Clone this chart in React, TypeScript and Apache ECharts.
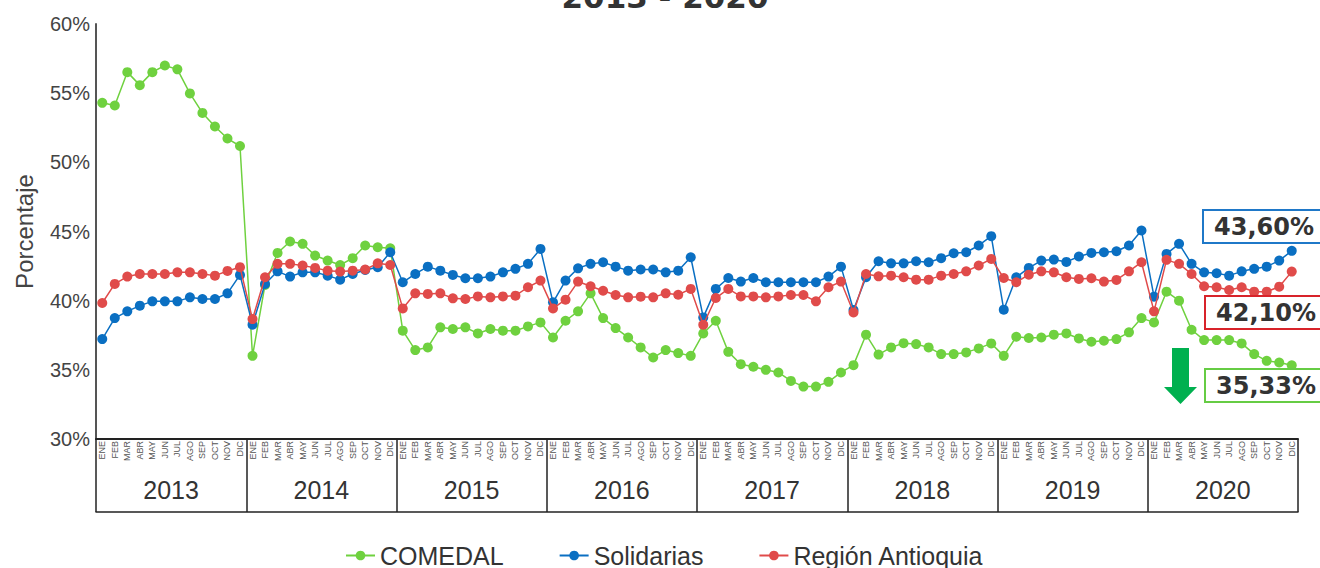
import React, { useEffect, useRef } from "react";
import * as echarts from "echarts";

const months = ["ENE", "FEB", "MAR", "ABR", "MAY", "JUN", "JUL", "AGO", "SEP", "OCT", "NOV", "DIC"];
const years = ["2013", "2014", "2015", "2016", "2017", "2018", "2019", "2020"];
const categories: string[] = years.flatMap(() => months);

const comedal = [
  54.30, 54.11, 56.52, 55.58, 56.52, 57.00, 56.72, 54.98, 53.57, 52.59, 51.72, 51.18,
  36.01, 41.14, 43.45, 44.28, 44.11, 43.26, 42.90, 42.58, 43.07, 43.99, 43.86, 43.79,
  37.83, 36.43, 36.62, 38.07, 37.95, 38.07, 37.63, 37.95, 37.83, 37.83, 38.14, 38.43,
  37.34, 38.55, 39.23, 40.53, 38.74, 38.02, 37.34, 36.62, 35.89, 36.43, 36.21, 36.01,
  37.63, 38.55, 36.30, 35.41, 35.22, 35.00, 34.81, 34.20, 33.79, 33.79, 34.13, 34.81,
  35.34, 37.54, 36.10, 36.62, 36.93, 36.86, 36.62, 36.14, 36.14, 36.26, 36.55, 36.91,
  36.01, 37.39, 37.30, 37.34, 37.54, 37.63, 37.27, 37.03, 37.10, 37.22, 37.71, 38.74,
  38.43, 40.65, 40.00, 37.90, 37.15, 37.15, 37.15, 36.91, 36.14, 35.65, 35.53, 35.33,
];

const solidarias = [
  37.22, 38.74, 39.23, 39.64, 39.95, 39.95, 39.95, 40.24, 40.12, 40.12, 40.53, 41.86,
  38.26, 41.21, 42.12, 41.74, 42.05, 42.05, 41.81, 41.52, 41.93, 42.22, 42.42, 43.50,
  41.33, 41.93, 42.46, 42.17, 41.86, 41.62, 41.62, 41.74, 42.05, 42.30, 42.66, 43.74,
  39.88, 41.45, 42.34, 42.66, 42.78, 42.46, 42.17, 42.25, 42.25, 42.05, 42.17, 43.14,
  38.79, 40.85, 41.64, 41.38, 41.64, 41.33, 41.33, 41.33, 41.33, 41.33, 41.74, 42.46,
  39.32, 41.69, 42.85, 42.70, 42.70, 42.85, 42.78, 43.07, 43.43, 43.50, 43.99, 44.66,
  39.35, 41.69, 42.37, 42.90, 42.97, 42.80, 43.19, 43.45, 43.50, 43.57, 43.99, 45.07,
  40.29, 43.38, 44.11, 42.66, 42.05, 41.98, 41.81, 42.12, 42.30, 42.46, 42.90, 43.60,
];

const region = [
  39.83, 41.21, 41.74, 41.93, 41.93, 41.93, 42.05, 42.05, 41.93, 41.81, 42.15, 42.42,
  38.67, 41.69, 42.66, 42.66, 42.54, 42.37, 42.17, 42.10, 42.17, 42.25, 42.70, 42.58,
  39.44, 40.53, 40.49, 40.53, 40.17, 40.12, 40.31, 40.24, 40.31, 40.36, 40.97, 41.45,
  39.44, 40.07, 41.38, 41.04, 40.72, 40.41, 40.24, 40.29, 40.24, 40.53, 40.43, 40.85,
  38.26, 40.19, 40.85, 40.31, 40.31, 40.24, 40.31, 40.41, 40.41, 39.95, 40.97, 41.38,
  39.15, 41.93, 41.76, 41.81, 41.69, 41.52, 41.52, 41.81, 41.93, 42.12, 42.54, 43.02,
  41.64, 41.33, 41.88, 42.12, 42.05, 41.69, 41.57, 41.62, 41.38, 41.50, 42.12, 42.78,
  39.23, 42.95, 42.66, 41.93, 41.04, 40.97, 40.77, 40.97, 40.65, 40.65, 41.01, 42.10,
];

const seriesNames = ["COMEDAL", "Solidarias", "Región Antioquia"];
const seriesColors = ["#6fd13f", "#0a6fc2", "#e04b4a"];
const boxColors = ["#66cc44", "#1f78c8", "#d8232a"];

const fmt = (v: number) => v.toFixed(2).replace(".", ",") + "%";

export default function App() {
  const ref = useRef<HTMLDivElement>(null);
  useEffect(() => {
    if (!ref.current) return;
    const chart = echarts.init(ref.current, null, { renderer: "svg" });
    const base = "'Liberation Sans', Arial, sans-serif";
    const allData = [comedal, solidarias, region];
    const lastVals = allData.map((d) => d[d.length - 1]);
    const boxes = [
      { idx: 1, x: 1203, y: 210 },
      { idx: 2, x: 1205, y: 296 },
      { idx: 0, x: 1205, y: 369 },
    ];
    const graphics: any[] = [
      {
        type: "text",
        x: 665,
        y: -3,
        style: {
          text: "2013 - 2020",
          font: "bold 31px 'DejaVu Sans', sans-serif",
          fill: "#333",
          textAlign: "center",
          textVerticalAlign: "middle",
        },
      },
      {
        type: "polygon",
        shape: {
          points: [
            [1172, 348],
            [1189, 348],
            [1189, 387],
            [1197, 387],
            [1180.5, 404],
            [1164, 387],
            [1172, 387],
          ],
        },
        style: { fill: "#00b04f" },
      },
    ];
    boxes.forEach((b) => {
      graphics.push({
        type: "rect",
        shape: { x: b.x, y: b.y, width: 140, height: 33 },
        style: { fill: "#fff", stroke: boxColors[b.idx], lineWidth: 2 },
        z: 10,
      });
      graphics.push({
        type: "text",
        x: b.x + 11,
        y: b.y + 17,
        style: {
          text: fmt(lastVals[b.idx]),
          font: "bold 24px 'DejaVu Sans', sans-serif",
          fill: "#333",
          textVerticalAlign: "middle",
        },
        z: 11,
      });
    });

    chart.setOption({
      animation: false,
      backgroundColor: "#ffffff",
      textStyle: { fontFamily: base },
      grid: { left: 96, right: 22, top: 24, bottom: 129, containLabel: false },
      legend: {
        left: 340,
        top: 538,
        itemWidth: 29,
        itemHeight: 12,
        itemGap: 55,
        textStyle: { fontSize: 25, color: "#333", fontFamily: base },
        data: seriesNames,
      },
      xAxis: [
        {
          type: "category",
          data: categories,
          boundaryGap: true,
          position: "bottom",
          axisLine: { show: true, lineStyle: { color: "#222", width: 2 } },
          axisTick: { show: false },
          axisLabel: {
            interval: 0,
            rotate: 90,
            fontSize: 9,
            color: "#555",
            margin: 2,
            fontFamily: base,
          },
          splitLine: { show: false },
        },
        {
          type: "category",
          data: years,
          boundaryGap: true,
          position: "bottom",
          offset: 73,
          axisLine: { show: true, lineStyle: { color: "#222", width: 1.5 } },
          axisTick: {
            show: true,
            inside: true,
            length: 73,
            interval: 0,
            lineStyle: { color: "#222", width: 1.5 },
          },
          axisLabel: {
            inside: true,
            interval: 0,
            fontSize: 25,
            color: "#333",
            margin: 10,
            fontFamily: base,
          },
          splitLine: { show: false },
        },
      ],
      yAxis: {
        type: "value",
        min: 30,
        max: 60,
        interval: 5,
        name: "Porcentaje",
        nameLocation: "middle",
        nameRotate: 90,
        nameGap: 60,
        nameTextStyle: { fontSize: 24, color: "#444", fontFamily: base },
        axisLine: { show: true, lineStyle: { color: "#555", width: 2 } },
        axisTick: { show: false },
        splitLine: { show: false },
        axisLabel: {
          formatter: "{value}%",
          fontSize: 20,
          color: "#444",
          margin: 6,
          fontFamily: base,
        },
      },
      series: allData.map((d, i) => ({
        name: seriesNames[i],
        type: "line",
        xAxisIndex: 0,
        data: d,
        symbol: "circle",
        symbolSize: 10,
        showSymbol: true,
        color: seriesColors[i],
        lineStyle: { width: 1.5, color: seriesColors[i] },
        itemStyle: { color: seriesColors[i] },
        z: 2 + i,
      })),
      graphic: graphics,
    });
    return () => chart.dispose();
  }, []);
  return (
    <div
      ref={ref}
      style={{ position: "fixed", left: 0, top: 0, width: 1320, height: 568 }}
    />
  );
}
